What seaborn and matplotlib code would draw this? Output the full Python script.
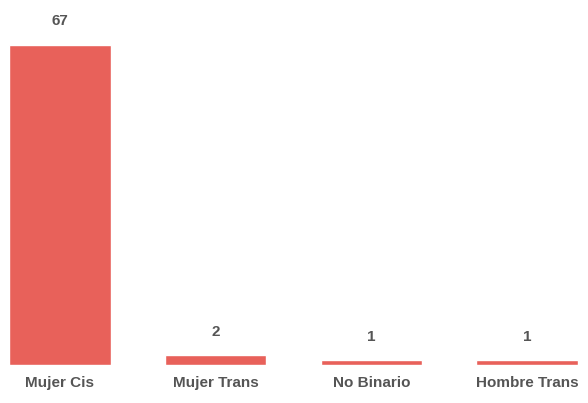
import pandas as pd
import matplotlib.pyplot as plt
import seaborn as sns

# Data
categories = ["Mujer Cis", "Mujer Trans", "No Binario", "Hombre Trans"]
counts = [67, 2, 1, 1]

df = pd.DataFrame({"identidad": categories, "n": counts})

sns.set_style("white")
plt.rcParams['font.family'] = ['Liberation Sans', 'DejaVu Sans']

fig = plt.figure(figsize=(5.88, 4.03), dpi=100)
ax = fig.add_axes([0, 38 / 403, 1, 320 / 403])

sns.barplot(data=df, x="identidad", y="n", color="#E8615A", saturation=1,
            width=0.65, ax=ax)

ax.set_xlim(-0.3854, 3.3918)
ax.set_ylim(0, 67)

# value labels above each bar
for i, v in enumerate(counts):
    ax.annotate(str(v), (i, v), xytext=(0, 12), textcoords="offset points",
                ha="center", va="bottom", fontsize=11, fontweight="bold",
                color="#555555")

ax.set_xlabel("")
ax.set_ylabel("")
ax.set_yticks([])
ax.tick_params(axis="x", length=0, pad=8, labelsize=11, labelcolor="#555555")
for lbl in ax.get_xticklabels():
    lbl.set_fontweight("bold")
sns.despine(ax=ax, left=True, bottom=True)

fig.savefig("out.png", dpi=100)
